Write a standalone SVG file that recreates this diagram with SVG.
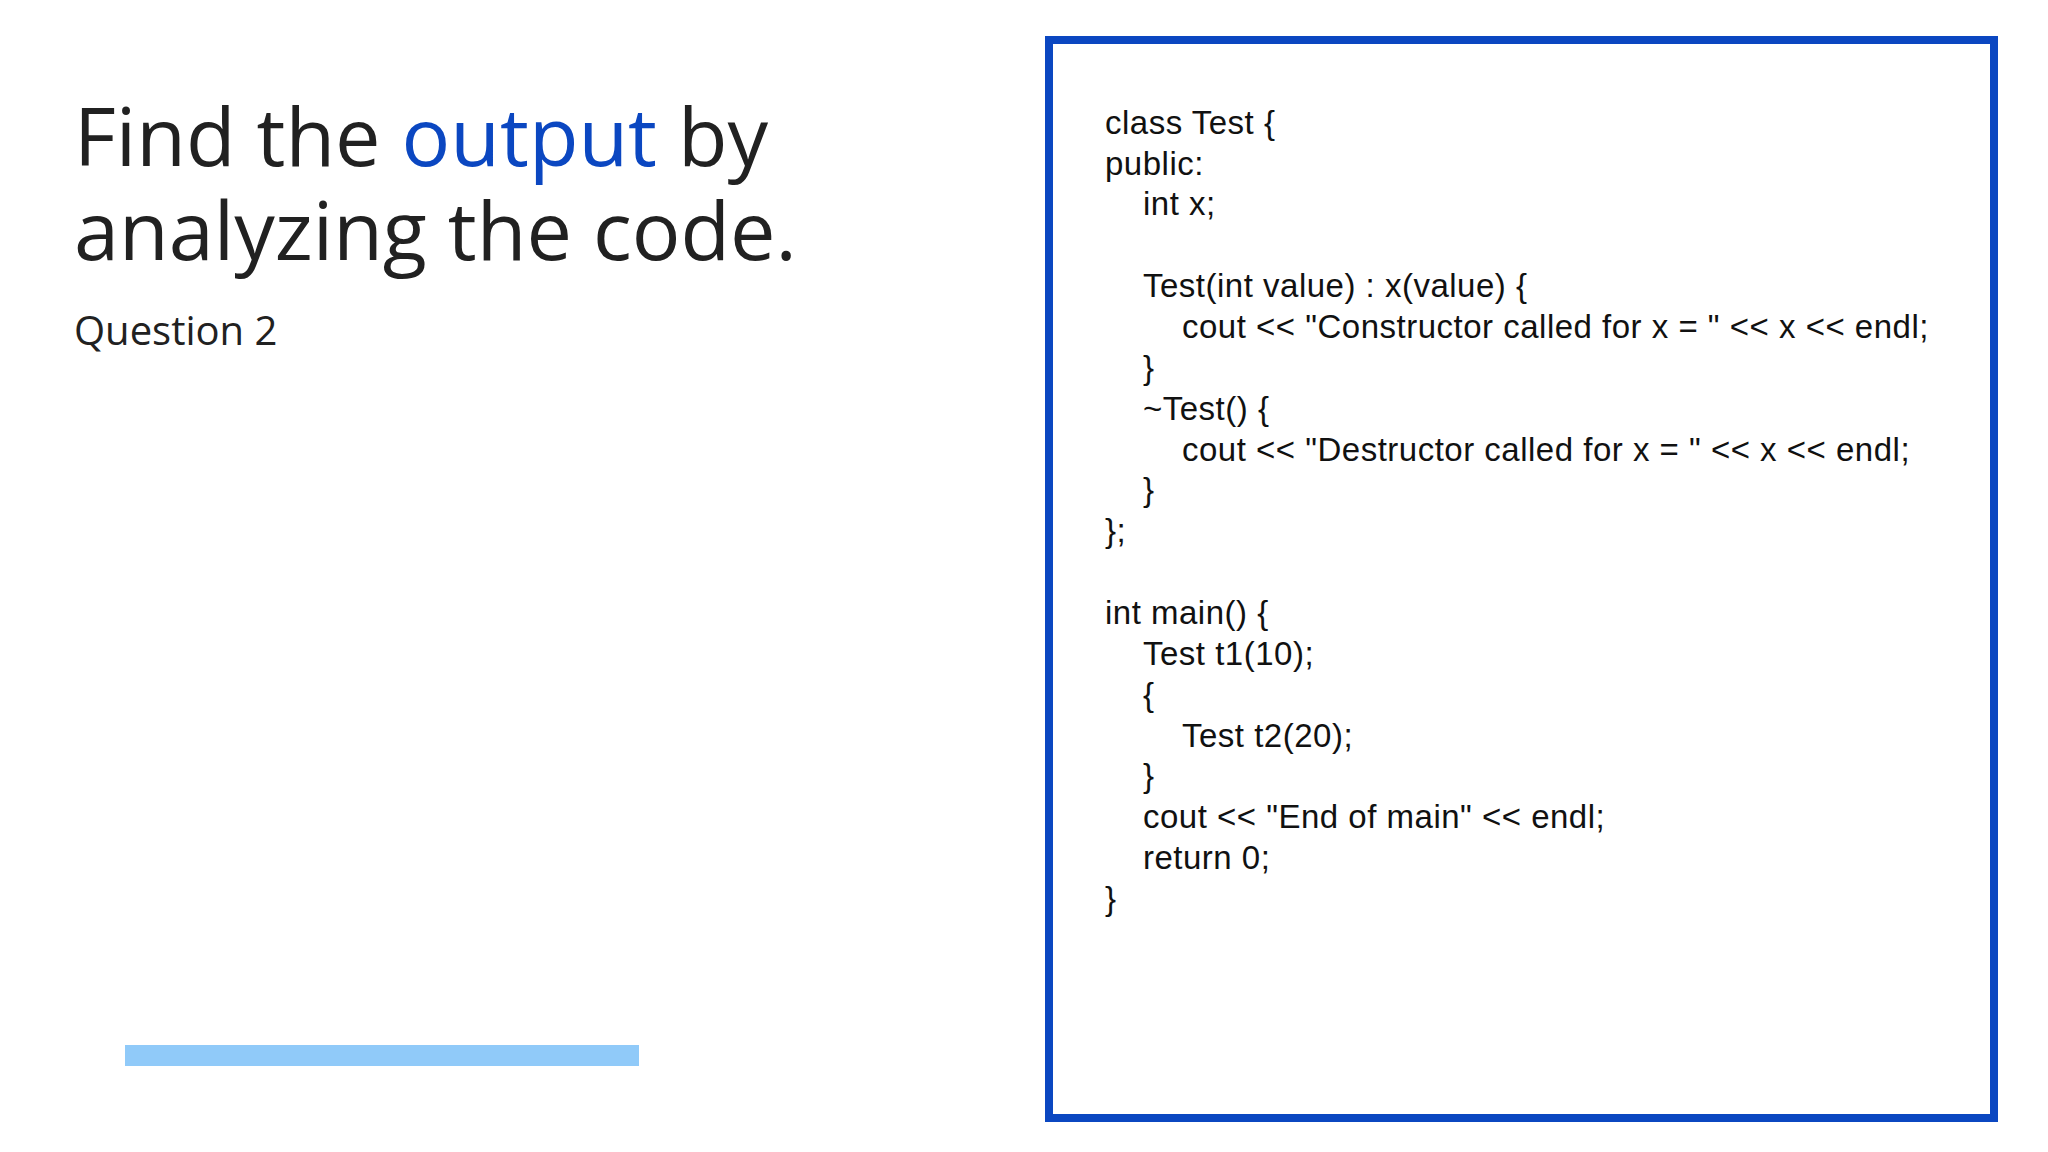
<svg xmlns="http://www.w3.org/2000/svg" width="2048" height="1152" viewBox="0 0 2048 1152">
<style>
.t{font-family:"Open Sans","Noto Sans",sans-serif;fill:#212121}
.c{font-family:"Liberation Sans",Arial,sans-serif;font-size:33px;letter-spacing:0.5px;fill:#111}
</style>
<rect width="2048" height="1152" fill="#fff"/>
<g id="title">
<text class="t" x="74" y="166" font-size="81">Find the <tspan fill="#0B47C1">output</tspan> by</text>
<text class="t" x="74" y="260" font-size="81">analyzing the code.</text>
<text class="t" x="74" y="345" font-size="40">Question 2</text>
</g>
<rect id="bar" x="125" y="1045" width="514" height="21" fill="#90CAF9"/>
<g id="codebox">
<rect x="1049" y="40" width="945" height="1078" fill="none" stroke="#0B47C1" stroke-width="8"/>
<text class="c" x="1105" y="134">class Test {</text>
<text class="c" x="1105" y="175">public:</text>
<text class="c" x="1143" y="215">int x;</text>
<text class="c" x="1143" y="297">Test(int value) : x(value) {</text>
<text class="c" x="1182" y="338">cout &lt;&lt; "Constructor called for x = " &lt;&lt; x &lt;&lt; endl;</text>
<text class="c" x="1143" y="379">}</text>
<text class="c" x="1143" y="420">~Test() {</text>
<text class="c" x="1182" y="461">cout &lt;&lt; "Destructor called for x = " &lt;&lt; x &lt;&lt; endl;</text>
<text class="c" x="1143" y="501">}</text>
<text class="c" x="1105" y="542">};</text>
<text class="c" x="1105" y="624">int main() {</text>
<text class="c" x="1143" y="665">Test t1(10);</text>
<text class="c" x="1143" y="706">{</text>
<text class="c" x="1182" y="747">Test t2(20);</text>
<text class="c" x="1143" y="787">}</text>
<text class="c" x="1143" y="828">cout &lt;&lt; "End of main" &lt;&lt; endl;</text>
<text class="c" x="1143" y="869">return 0;</text>
<text class="c" x="1105" y="910">}</text>
</g>
</svg>
